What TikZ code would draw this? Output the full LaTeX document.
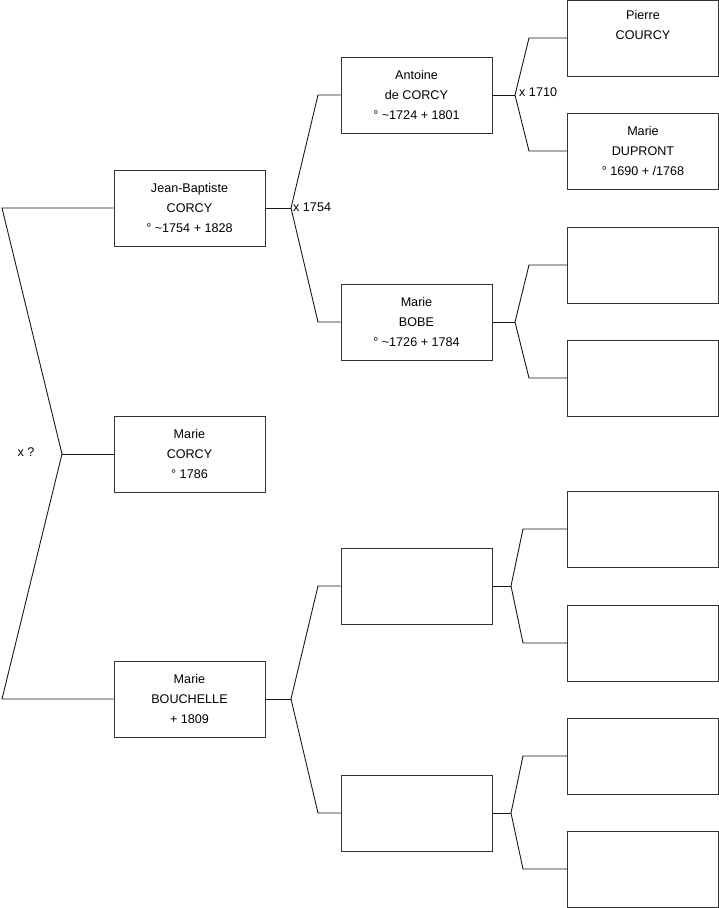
\documentclass[tikz,border=0pt]{standalone}
\usepackage{fontspec}
\setmainfont{Liberation Sans}
\begin{document}
\begin{tikzpicture}[x=1pt,y=-1pt,
  person/.style={draw=black!80,line width=0.9pt,fill=white,rectangle,minimum width=151pt,minimum height=76pt,inner sep=0pt,align=center,font=\fontsize{12.6}{19.8}\selectfont,text=black},
  conn/.style={draw=black!90,line width=0.9pt},
  lbl/.style={font=\fontsize{12.6}{14}\selectfont,text=black,inner sep=0pt}]
\useasboundingbox (0,0) rectangle (719,908);
% generation 0
\node[person] (JB) at (189.5,208) {Jean-Baptiste\\CORCY\\° \textasciitilde1754 + 1828};
\node[person] (MC) at (189.5,454) {Marie\\CORCY\\° 1786};
\node[person] (MB) at (189.5,699) {Marie\\BOUCHELLE\\+ 1809};
% generation 1
\node[person] (A) at (416.5,95) {Antoine\\de CORCY\\° \textasciitilde1724 + 1801};
\node[person] (BO) at (416.5,322) {Marie\\BOBE\\° \textasciitilde1726 + 1784};
\node[person] (E1) at (416.5,586) {};
\node[person] (E2) at (416.5,813) {};
% generation 2
\node[person] (G1) at (643,38) {Pierre\\COURCY\\\strut};
\node[person] (G2) at (643,151) {Marie\\DUPRONT\\° 1690 + /1768};
\node[person] (G3) at (643,265) {};
\node[person] (G4) at (643,378) {};
\node[person] (G5) at (643,529) {};
\node[person] (G6) at (643,643) {};
\node[person] (G7) at (643,756) {};
\node[person] (G8) at (643,869) {};
% root fork
\coordinate (ra) at (2,208);
\coordinate (rb) at (62,454);
\coordinate (rc) at (2,699);
\draw[conn] (JB.west) -- (ra) -- (rb) -- (rc) -- (MB.west);
\draw[conn] (rb) -- (MC.west);
\node[lbl] (lq) at (26,452) {x ?};
% JB fork
\coordinate (f1) at (291,208);
\coordinate (f1a) at (318,95);
\coordinate (f1b) at (318,322);
\draw[conn] (JB.east) -- (f1);
\draw[conn] (A.west) -- (f1a) -- (f1) -- (f1b) -- (BO.west);
\node[lbl,anchor=west] (l1754) at (293,207) {x 1754};
% MB fork
\coordinate (f2) at (291,699);
\coordinate (f2a) at (318,586);
\coordinate (f2b) at (318,813);
\draw[conn] (MB.east) -- (f2);
\draw[conn] (E1.west) -- (f2a) -- (f2) -- (f2b) -- (E2.west);
% Antoine fork
\coordinate (f3) at (515,95);
\coordinate (f3a) at (529,38);
\coordinate (f3b) at (529,151);
\draw[conn] (A.east) -- (f3);
\draw[conn] (G1.west) -- (f3a) -- (f3) -- (f3b) -- (G2.west);
\node[lbl,anchor=west] (l1710) at (519,92) {x 1710};
% BOBE fork
\coordinate (f4) at (515,322);
\coordinate (f4a) at (529,265);
\coordinate (f4b) at (529,378);
\draw[conn] (BO.east) -- (f4);
\draw[conn] (G3.west) -- (f4a) -- (f4) -- (f4b) -- (G4.west);
% E1 fork
\coordinate (f5) at (511,586);
\coordinate (f5a) at (523,529);
\coordinate (f5b) at (523,643);
\draw[conn] (E1.east) -- (f5);
\draw[conn] (G5.west) -- (f5a) -- (f5) -- (f5b) -- (G6.west);
% E2 fork
\coordinate (f6) at (511,813);
\coordinate (f6a) at (523,756);
\coordinate (f6b) at (523,869);
\draw[conn] (E2.east) -- (f6);
\draw[conn] (G7.west) -- (f6a) -- (f6) -- (f6b) -- (G8.west);
\end{tikzpicture}
\end{document}
